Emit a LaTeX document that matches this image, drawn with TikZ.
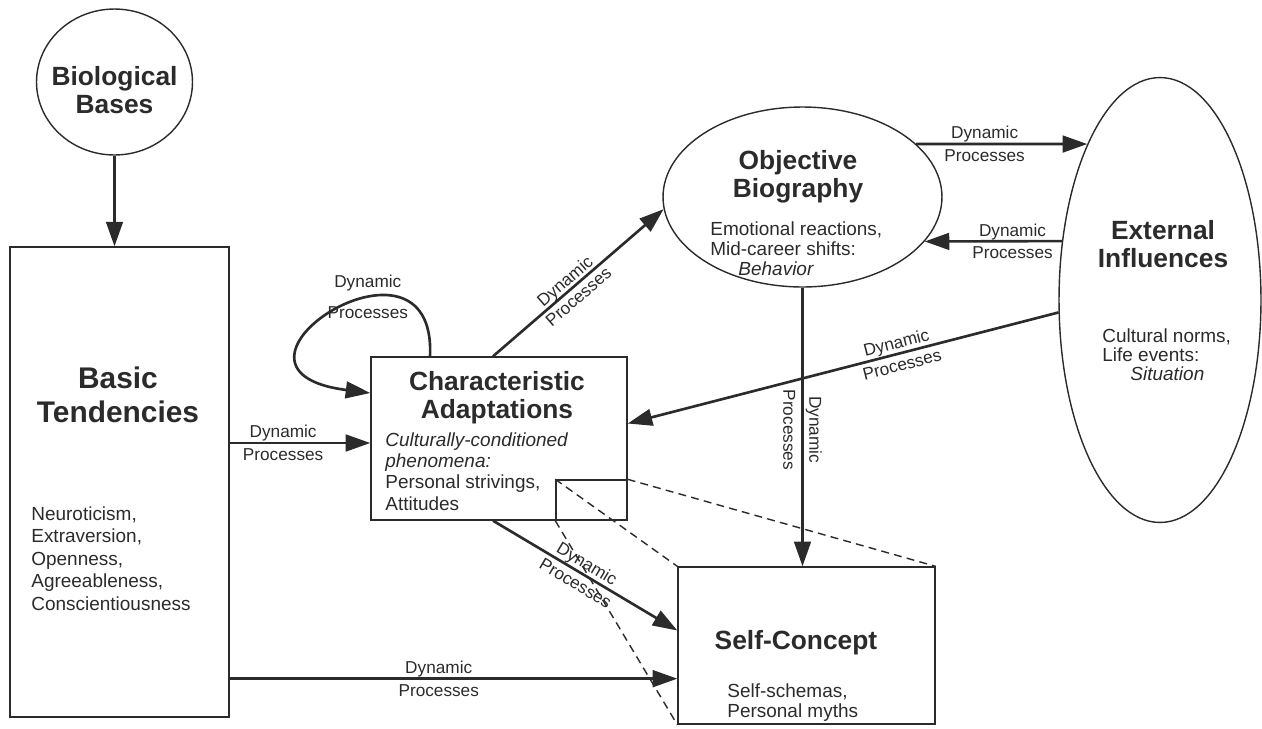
\documentclass[tikz,border=0pt]{standalone}
\usepackage{fontspec}
\setmainfont{Liberation Sans}
\usetikzlibrary{arrows.meta,shapes.geometric,calc}
\definecolor{ink}{HTML}{2B2B2B}
\newcommand{\hdfont}{\fontsize{15}{16}\selectfont\bfseries}
\newcommand{\bdfont}{\fontsize{10.8}{12.2}\selectfont}
\newcommand{\lbfont}{\fontsize{9.8}{12.8}\selectfont}

\begin{document}
\begin{tikzpicture}[x=0.02cm,y=-0.02cm,
    box/.style={draw=ink,line width=0.8pt,rectangle,inner sep=0pt},
    oval/.style={draw=ink,line width=0.8pt,ellipse,inner sep=0pt},
    head/.style={text=ink,inner sep=0pt,align=center,font=\hdfont},
    txt/.style={text=ink,inner sep=0pt,align=left,font=\bdfont},
    lbl/.style={text=ink,inner sep=0pt,align=center,font=\lbfont},
    arr/.style={draw=ink,line width=1.5pt,-{Triangle[length=14pt,width=9.5pt]}},
    zoomline/.style={draw=ink,line width=0.8pt,dash pattern=on 4.5pt off 3pt}]
  \useasboundingbox (0,0) rectangle (1262,728);

  % boxes and ovals
  \node[oval,minimum width=3.12cm,minimum height=2.92cm] (bio) at (114.5,82) {};
  \node[box,minimum width=4.38cm,minimum height=9.4cm] (basic) at (119.5,482) {};
  \node[box,minimum width=5.12cm,minimum height=3.26cm] (char) at (499,438.5) {};
  \node[box,minimum width=1.42cm,minimum height=0.8cm] (zoombox) at (591.5,500) {};
  \node[oval,minimum width=5.58cm,minimum height=3.6cm] (obj) at (802.5,197) {};
  \node[oval,minimum width=4.04cm,minimum height=8.9cm] (ext) at (1160,300) {};
  \node[box,minimum width=5.14cm,minimum height=3.14cm] (self) at (806.5,645.5) {};

  % texts
  \node[head] (biohead) at (114.5,90) {Biological\\Bases};
  \node[head,font=\fontsize{17}{19}\selectfont\bfseries] (basichead) at (118,395) {Basic\\Tendencies};
  \node[txt,anchor=north west,font=\fontsize{10.8}{12.8}\selectfont] (basicbody) at (31,506)
    {Neuroticism,\\Extraversion,\\Openness,\\Agreeableness,\\Conscientiousness};
  \node[head] (charhead) at (497,398) {Characteristic\\Adaptations};
  \node[txt,anchor=north west] (charbody) at (385,432)
    {\textit{Culturally-conditioned}\\\textit{phenomena:}\\Personal strivings,\\Attitudes};
  \node[head] (objhead) at (798,177) {Objective\\Biography};
  \node[txt,anchor=north west,font=\fontsize{10.8}{11.4}\selectfont] (objbody) at (710,221)
    {Emotional reactions,\\Mid-career shifts:\\\hspace*{16pt}\textit{Behavior}};
  \node[head] (exthead) at (1163,244) {External\\Influences};
  \node[txt,anchor=north west,font=\fontsize{10.8}{10.9}\selectfont] (extbody) at (1102,328)
    {Cultural norms,\\Life events:\\\hspace*{16pt}\textit{Situation}};
  \node[head] (selfhead) at (796,643) {Self-Concept};
  \node[txt,anchor=north west,font=\fontsize{10.8}{11.4}\selectfont] (selfbody) at (727,683)
    {Self-schemas,\\Personal myths};

  % connectors
  \coordinate (cin) at ($(char.west)+(0,4.5)$);
  \coordinate (bsrc) at ($(basic.south east)+(0,-39)$);
  \draw[arr] (bio.south) -- (bio.south |- basic.north);
  \draw[arr] (cin -| basic.east) -- node[lbl,pos=0.38] (l1) {Dynamic\\Processes} (cin);
  \draw[arr] (bsrc) -- node[lbl,pos=0.467] (l2) {Dynamic\\Processes} (bsrc -| self.west);
  \draw[arr] ([xshift=-0.12cm]char.north) -- node[lbl,sloped,pos=0.46] (l3) {Dynamic\\[-1pt]Processes} (obj.185);
  \draw[arr] (obj.25) -- node[lbl,pos=0.40] (l4) {Dynamic\\Processes} (ext.115);
  \draw[arr] (ext.149) -- node[lbl,pos=0.36] (l5) {Dynamic\\Processes} (obj.-20);
  \draw[arr] (ext.187) -- node[lbl,sloped,pos=0.37] (l6) {Dynamic\\Processes} ([yshift=0.3cm]char.east);
  \draw[arr,line width=1.3pt] (obj.south) -- node[lbl,rotate=-90,pos=0.51] (l7) {Dynamic\\[2pt]Processes} (obj.south |- self.north);
  \draw[arr] ([xshift=-0.12cm]char.south) -- node[lbl,sloped,pos=0.48] (l8) {Dynamic\\Processes} ([yshift=0.3cm]self.west);
  \draw[arr] ([xshift=-1.38cm]char.north) .. controls +(7,-147) and +(-181,-23) .. ([yshift=0.91cm]char.west)
    node[lbl,pos=0.37] (l9) {Dynamic\\[5pt]Processes};

  % zoom lines
  \draw[zoomline] (zoombox.north west) -- (self.north west);
  \draw[zoomline] (zoombox.south west) -- (self.south west);
  \draw[zoomline] (zoombox.north east) -- (self.north east);
\end{tikzpicture}
\end{document}
